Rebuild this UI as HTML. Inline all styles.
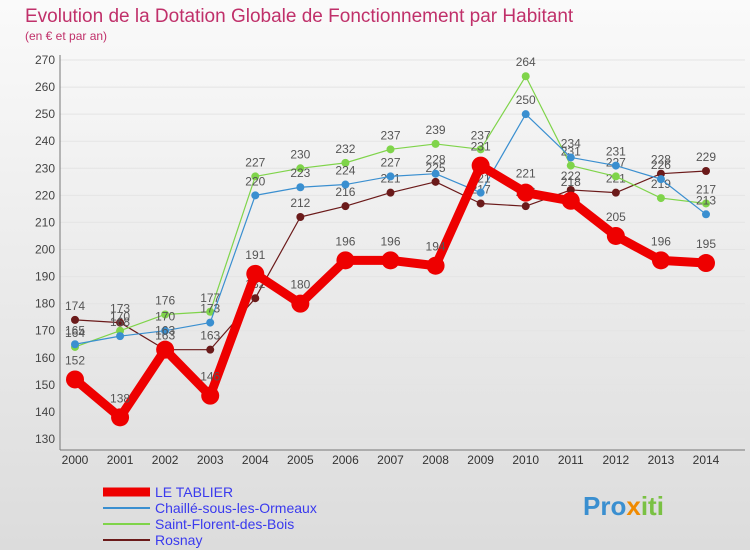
<!DOCTYPE html>
<html><head><meta charset="utf-8"><style>
body{margin:0;width:750px;height:550px;overflow:hidden;font-family:"Liberation Sans",sans-serif}
#bg{position:absolute;left:0;top:0;width:750px;height:550px;background:linear-gradient(#fafafa,#dcdcdc)}
</style></head><body>
<div id="bg"></div>
<svg id="c" width="750" height="550" style="position:absolute;left:0;top:0">
<text x="25" y="22" font-size="19" fill="#c0306a">Evolution de la Dotation Globale de Fonctionnement par Habitant</text>
<text x="25" y="40" font-size="12" fill="#c0306a">(en € et par an)</text>
<g id="axes"></g><g id="series"></g><g id="legend"></g>
<text x="583" y="515" font-size="26" font-weight="bold" fill="#3a8fd0">Pro<tspan fill="#f08a00">x</tspan><tspan fill="#7ac143">iti</tspan></text>
</svg>
<script>
const years=[2000,2001,2002,2003,2004,2005,2006,2007,2008,2009,2010,2011,2012,2013,2014];
const yTicks=[130,140,150,160,170,180,190,200,210,220,230,240,250,260,270];
const tablier=[152,138,163,146,191,180,196,196,194,231,221,218,205,196,195];
const chaille=[165,168,170,173,220,223,224,227,228,221,250,234,231,226,213];
const florent=[164,170,176,177,227,230,232,237,239,237,264,231,227,219,217];
const rosnay=[174,173,163,163,182,212,216,221,225,217,216,222,221,228,229];
const NS="http://www.w3.org/2000/svg";
const X=i=>75+i*(631/14);
const Y=v=>439-(v-130)*(379/140);
function mk(t,a,p){const e=document.createElementNS(NS,t);for(const k in a)e.setAttribute(k,a[k]);p.appendChild(e);return e;}
const ax=document.getElementById('axes');
yTicks.forEach(v=>{
 const g=mk('line',{x1:60,x2:745,y1:Y(v),y2:Y(v),stroke:'#e4e4e4','stroke-width':1},ax);
 
 
 const t=mk('text',{x:55,y:Y(v)+4,'font-size':12,'text-anchor':'end',fill:'#444'},ax);t.textContent=v;
 
 
});
years.forEach((y,i)=>{
 const t=mk('text',{x:X(i),y:464,'font-size':12,'text-anchor':'middle',fill:'#333'},ax);t.textContent=y;
 
 
});
mk('line',{x1:60,x2:60,y1:55,y2:450,stroke:'#777'},ax);
mk('line',{x1:60,x2:745,y1:450,y2:450,stroke:'#777'},ax);
const sg=document.getElementById('series');
const series=[[rosnay,'#6b1a1a',1.2,4,'rosnay'],[florent,'#7fd44a',1.2,4,'saint-florent'],[chaille,'#3a8fd0',1.2,4,'chaille'],[tablier,'#ee0000',9,9,'le-tablier']];
series.forEach(([d,c,w,r,n])=>{
 const p=mk('polyline',{points:d.map((v,i)=>X(i)+','+Y(v)).join(' '),fill:'none',stroke:c,'stroke-width':w,'stroke-linejoin':'round'},sg);
 
 
 d.forEach((v,i)=>{
  const m=mk('circle',{cx:X(i),cy:Y(v),r:r,fill:c},sg);
  
  
  const t=mk('text',{x:X(i),y:Y(v)-(r+6),'font-size':12,'text-anchor':'middle',fill:'#555'},sg);t.textContent=v;
  
  
 });
});
const lg=document.getElementById('legend');
[['LE TABLIER','#ee0000',9],['Chaillé-sous-les-Ormeaux','#3a8fd0',2],['Saint-Florent-des-Bois','#7fd44a',2],['Rosnay','#6b1a1a',2]].forEach(([n,c,w],i)=>{
 const y=492+i*16;
 const l=mk('line',{x1:103,x2:150,y1:y,y2:y,stroke:c,'stroke-width':w},lg);
 
 
 const t=mk('text',{x:155,y:y+5,'font-size':14,fill:'#3a3aee'},lg);t.textContent=n;
 
 
});
</script>
</body></html>
